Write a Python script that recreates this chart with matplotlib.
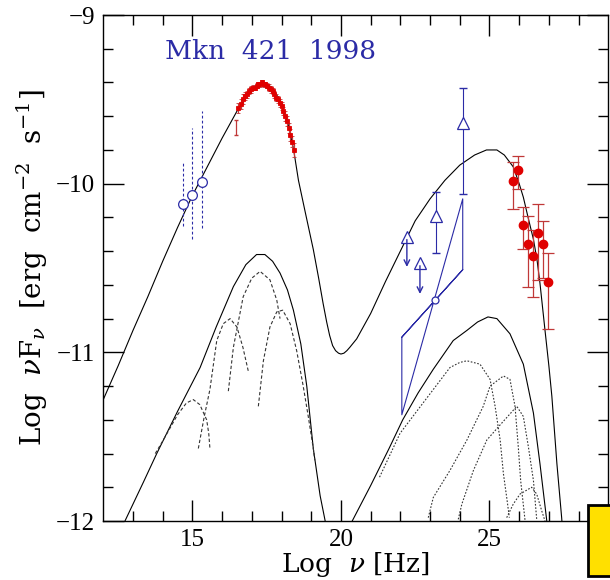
import numpy as np
import matplotlib
matplotlib.use('Agg')
import matplotlib.pyplot as plt
from matplotlib.patches import Rectangle

plt.rcParams['font.family'] = ['Liberation Serif', 'DejaVu Serif']
plt.rcParams['mathtext.fontset'] = 'dejavuserif'

# --- model curves (log nu, log nuFnu) ---
tot_x = [12.0, 12.5, 13.0, 13.5, 14.0, 14.5, 15.0, 15.5, 16.0, 16.5, 16.8, 17.0, 17.2, 17.4,
         17.6, 17.8, 18.0, 18.2, 18.4, 18.57, 18.8, 19.07, 19.25, 19.4, 19.52, 19.62, 19.72,
         19.82, 19.92, 20.0, 20.1, 20.2, 20.3, 20.53, 21.0, 21.5, 22.0, 22.5, 23.0, 23.5, 24.0,
         24.5, 24.9, 25.25, 25.5, 25.8, 26.0, 26.14, 26.3, 26.48, 26.6, 26.7, 26.87, 27.0, 27.1,
         27.27, 27.43, 27.46]
tot_y = [-11.28, -11.08, -10.87, -10.67, -10.46, -10.26, -10.07, -9.9, -9.73, -9.57, -9.49, -9.45, -9.42, -9.41,
         -9.42, -9.46, -9.53, -9.63, -9.79, -9.98, -10.17, -10.39, -10.56, -10.71, -10.82, -10.9, -10.96,
         -10.99, -11.005, -11.01, -11.005, -10.99, -10.97, -10.92, -10.77, -10.58, -10.4, -10.22, -10.09, -9.98, -9.89,
         -9.83, -9.8, -9.8, -9.83, -9.9, -10.0, -10.08, -10.2, -10.33, -10.45, -10.59, -10.87, -11.08, -11.26,
         -11.66, -11.98, -12.05]

low_sync_x = [12.73, 13.35, 13.8, 14.5, 15.26, 15.8, 16.38, 16.8, 17.16, 17.44, 17.7, 17.95,
              18.2, 18.4, 18.65, 18.85, 19.07, 19.3, 19.47]
low_sync_y = [-12.0, -11.77, -11.6, -11.35, -11.09, -10.85, -10.61, -10.48, -10.42, -10.42, -10.46, -10.53,
              -10.63, -10.75, -10.95, -11.2, -11.57, -11.85, -12.0]

low_ssc_x = [20.38, 21.0, 21.62, 22.08, 22.6, 23.11, 23.78, 24.24, 24.6, 24.95, 25.25, 25.69,
             26.14, 26.48, 26.7, 26.93]
low_ssc_y = [-12.0, -11.79, -11.57, -11.4, -11.24, -11.1, -10.93, -10.87, -10.82, -10.79, -10.8, -10.89,
             -11.07, -11.36, -11.66, -12.0]

# synchrotron components (dashed)
s1_x = [13.75, 14.02, 14.5, 14.8, 15.03, 15.25, 15.48, 15.55, 15.59]
s1_y = [-11.6, -11.52, -11.37, -11.3, -11.28, -11.31, -11.4, -11.48, -11.57]
s2_x = [15.2, 15.4, 15.59, 15.82, 16.04, 16.27, 16.5, 16.7, 16.88]
s2_y = [-11.57, -11.38, -11.22, -10.93, -10.83, -10.8, -10.85, -10.97, -11.11]
s3_x = [16.21, 16.38, 16.71, 17.0, 17.28, 17.61, 17.84, 17.95]
s3_y = [-11.23, -10.97, -10.67, -10.56, -10.52, -10.57, -10.69, -10.8]
s4_x = [17.22, 17.39, 17.61, 17.84, 18.04, 18.29, 18.51, 18.73, 18.9, 19.07, 19.12]
s4_y = [-11.32, -11.05, -10.85, -10.76, -10.75, -10.83, -10.99, -11.2, -11.38, -11.57, -11.64]

# SSC components (dotted)
c1_x = [21.3, 21.99, 23.11, 23.67, 24.0, 24.24, 24.68, 25.02, 25.19, 25.36, 25.47, 25.58, 25.67]
c1_y = [-11.74, -11.48, -11.22, -11.09, -11.06, -11.05, -11.07, -11.16, -11.32, -11.52, -11.72, -11.86, -11.98]
c2_x = [22.94, 23.11, 23.67, 24.24, 24.79, 25.02, 25.47, 25.69, 25.86, 25.97, 26.05, 26.2]
c2_y = [-11.98, -11.86, -11.7, -11.52, -11.32, -11.2, -11.14, -11.16, -11.32, -11.56, -11.76, -12.0]
c3_x = [23.95, 24.07, 24.46, 24.91, 25.36, 25.92, 26.14, 26.31, 26.48, 26.59]
c3_y = [-11.99, -11.9, -11.7, -11.52, -11.43, -11.32, -11.38, -11.56, -11.76, -11.99]
c4_x = [25.58, 25.8, 26.03, 26.42, 26.59, 26.76, 26.87]
c4_y = [-11.98, -11.9, -11.84, -11.8, -11.84, -11.94, -12.0]

# --- data ---
opt_x = [14.69, 14.99, 15.31]
opt_y = [-10.12, -10.07, -9.99]
opt_lo = [-10.25, -10.33, -10.26]
opt_hi = [-9.88, -9.67, -9.57]

xr_x = [16.55, 16.62, 16.71, 16.78, 16.85, 16.92, 16.98, 17.04, 17.1, 17.16, 17.22, 17.28,
        17.34, 17.4, 17.46, 17.52, 17.58, 17.64, 17.7, 17.76, 17.82, 17.88, 17.94, 18.0,
        18.06, 18.12, 18.18, 18.24, 18.3, 18.36, 18.42]
xr_y = [-9.55, -9.53, -9.5, -9.48, -9.47, -9.45, -9.44, -9.43, -9.43, -9.42, -9.41, -9.41,
        -9.4, -9.41, -9.41, -9.42, -9.43, -9.44, -9.45, -9.47, -9.49, -9.5, -9.52, -9.54,
        -9.57, -9.6, -9.63, -9.67, -9.71, -9.75, -9.8]
xr_err = [0.03, 0.03, 0.03, 0.025, 0.02, 0.02, 0.02, 0.015, 0.015, 0.015, 0.015, 0.015,
          0.015, 0.015, 0.015, 0.015, 0.02, 0.02, 0.02, 0.02, 0.02, 0.02, 0.025, 0.025,
          0.025, 0.03, 0.03, 0.03, 0.035, 0.035, 0.04]
xr_odd_x = [16.47]
xr_odd_y = [-9.665]
xr_odd_err = [0.045]

gam_x = [23.2, 24.12]
gam_y = [-10.19, -9.64]
gam_lo = [-10.41, -10.06]
gam_hi = [-10.05, -9.43]
ul_x = [22.22, 22.66]
ul_y = [-10.315, -10.47]
ul_end = [-10.51, -10.67]

bow_x = [22.05, 24.1, 24.1, 22.05, 22.05, 24.1]
bow_y = [-10.91, -10.51, -10.09, -11.37, -10.91, -10.51]
piv_x = [23.15]
piv_y = [-10.69]

tev_x = [25.8, 25.97, 26.14, 26.31, 26.48, 26.65, 26.81, 26.98]
tev_y = [-9.985, -9.92, -10.245, -10.355, -10.43, -10.29, -10.355, -10.58]
tev_lo = [-10.15, -10.03, -10.39, -10.61, -10.67, -10.57, -10.56, -10.86]
tev_hi = [-9.87, -9.835, -10.14, -10.19, -10.275, -10.12, -10.22, -10.41]

blue = '#2b2ba6'
red = '#e00000'
dred = '#c03838'
grey = '#333333'
lw = 0.8

fig = plt.figure(figsize=(6.1, 5.8), dpi=100)
ax = fig.add_axes([0.1693, 0.1017, 0.8279, 0.8724])

ax.plot(tot_x, tot_y, color='black', lw=lw)
ax.plot(low_sync_x, low_sync_y, color='black', lw=lw)
ax.plot(low_ssc_x, low_ssc_y, color='black', lw=lw)

for cx, cy in [(s1_x, s1_y), (s2_x, s2_y), (s3_x, s3_y), (s4_x, s4_y)]:
    ax.plot(cx, cy, color=grey, lw=lw, linestyle=(0, (3, 2)))
for cx, cy in [(c1_x, c1_y), (c2_x, c2_y), (c3_x, c3_y), (c4_x, c4_y)]:
    ax.plot(cx, cy, color=grey, lw=lw, linestyle=(0, (1.5, 1.5)))

# optical
ax.vlines(opt_x, opt_lo, opt_hi, colors=blue, linestyles=(0, (2.5, 2)), lw=lw)
ax.plot(opt_x, opt_y, 'o', ms=7, mfc='white', mec=blue, mew=0.9, ls='none')

# X-ray
ax.errorbar(xr_x, xr_y, yerr=xr_err, fmt='s', ms=2.5, color=red, ecolor=dred, elinewidth=0.9,
            capsize=1.5, mew=0.6)
ax.errorbar(xr_odd_x, xr_odd_y, yerr=xr_odd_err, fmt='none', ecolor=dred, elinewidth=0.9, capsize=1.5)

# GeV
ax.plot(bow_x, bow_y, color=blue, lw=lw)
ax.plot(piv_x, piv_y, 'o', ms=5, mfc='white', mec=blue, mew=0.9)
ax.vlines(gam_x, gam_lo, gam_hi, colors=blue, lw=lw)
ax.plot(gam_x, gam_lo, '_', color=blue, ms=6)
ax.plot(gam_x, gam_hi, '_', color=blue, ms=6)
ax.plot(gam_x, gam_y, '^', ms=9, mfc='white', mec=blue, mew=0.9, ls='none')
for x, y0, y1 in zip(ul_x, ul_y, ul_end):
    ax.annotate('', xy=(x, y1), xytext=(x, y0),
                arrowprops=dict(arrowstyle='->', color=blue, lw=1.0))
ax.plot(ul_x, ul_y, '^', ms=9, mfc='white', mec=blue, mew=0.9, ls='none')

# TeV
tev_err = [np.array(tev_y) - np.array(tev_lo), np.array(tev_hi) - np.array(tev_y)]
ax.errorbar(tev_x, tev_y, yerr=tev_err, fmt='o', ms=6, color=red, ecolor=dred,
            elinewidth=0.9, capsize=4, capthick=0.9)

ax.text(0.122, 0.927, 'Mkn  421  1998', transform=ax.transAxes, color=blue,
        fontsize=19, va='center', ha='left', family='DejaVu Serif')

ax.set_xlim(12, 29)
ax.set_ylim(-12, -9)
ax.set_xticks([15, 20, 25])
ax.set_yticks([-12, -11, -10, -9])
ax.set_xticks(np.arange(13, 29, 1), minor=True)
ax.set_yticks(np.arange(-11.8, -9.0, 0.2), minor=True)
ax.tick_params(which='both', direction='in', top=True, right=True, labelsize=18, width=1)
ax.tick_params(which='major', length=15, pad=6)
ax.tick_params(which='minor', length=7.5)
for s in ax.spines.values():
    s.set_linewidth(1.0)

ax.set_xlabel(r'Log  $\nu$ [Hz]', fontsize=19, labelpad=-1, family='DejaVu Serif')
ax.set_ylabel(r'Log  $\nu$F$_\nu$  [erg  cm$^{-2}$  s$^{-1}$]', fontsize=20, labelpad=4,
              family='DejaVu Serif')

# yellow box at lower right
fig.patches.append(Rectangle((588 / 610, 4 / 580), 30 / 610, 71 / 580, transform=fig.transFigure,
                             facecolor='#ffe000', edgecolor='black', lw=2, zorder=5))

fig.savefig('out.png', dpi=100)
